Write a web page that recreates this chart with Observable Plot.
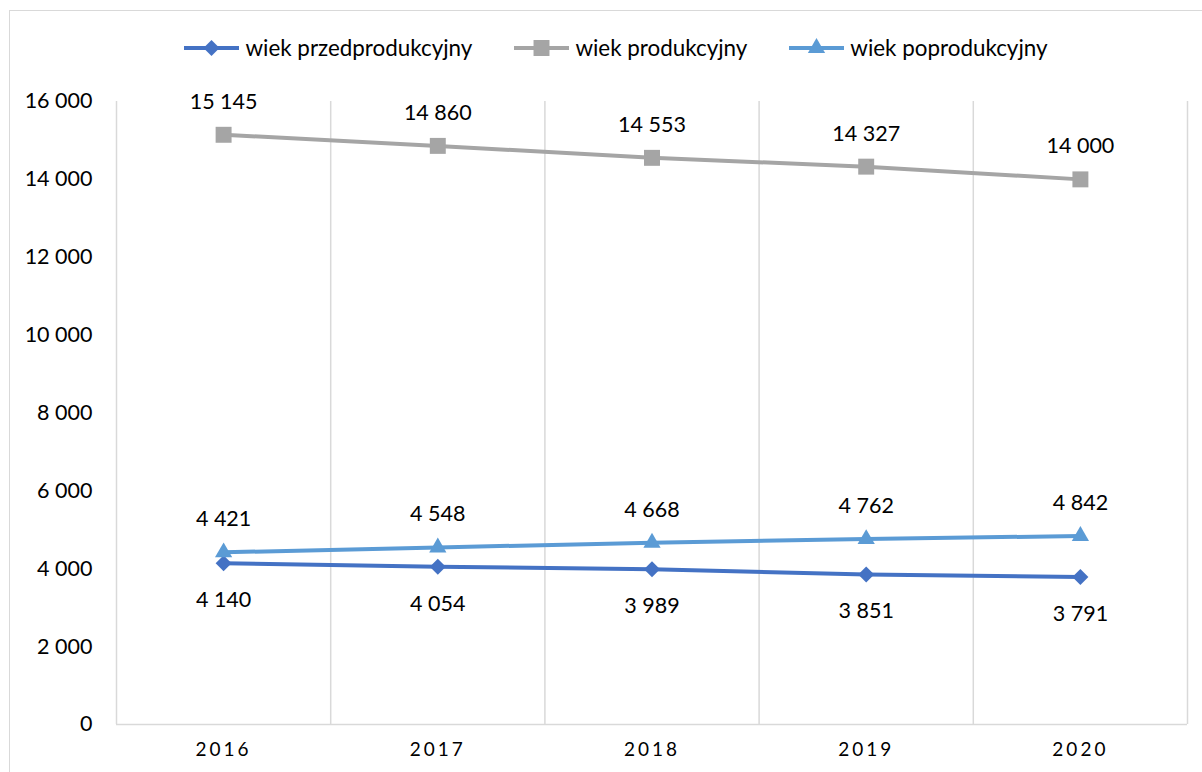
<!DOCTYPE html>
<html><head><meta charset="utf-8">
<script src="https://cdn.jsdelivr.net/npm/d3@7"></script>
<script src="https://cdn.jsdelivr.net/npm/@observablehq/plot@0.6"></script>
<style>
html,body{margin:0;padding:0;background:#fff;overflow:hidden}
#wrap{position:relative;width:1202px;height:772px;font-family:Lato,sans-serif;color:#000}
#frame{position:absolute;left:9px;top:10px;width:1300px;height:900px;border:1.5px solid #d9d9d9;box-sizing:border-box}
#chart{position:absolute;left:0;top:0}
#legend{position:absolute;top:34px;left:0;width:1232px;display:flex;justify-content:center;gap:42px;font-size:22.4px;line-height:28px}
.item{display:flex;align-items:center}
.item svg{margin-right:6px}
g[aria-label="x-axis tick label"] text{letter-spacing:3px}
</style></head>
<body><div id="wrap"><div id="frame"></div><div id="chart"></div><div id="legend"></div></div>
<script>
const years = [2016, 2017, 2018, 2019, 2020];
const seriesNames = ["wiek przedprodukcyjny", "wiek produkcyjny", "wiek poprodukcyjny"];
const przed = [4140, 4054, 3989, 3851, 3791];
const prod = [15145, 14860, 14553, 14327, 14000];
const po = [4421, 4548, 4668, 4762, 4842];
const yTicks = [0, 2000, 4000, 6000, 8000, 10000, 12000, 14000, 16000];

const colors = ["#4472C4", "#A5A5A5", "#5B9BD5"];
const symbols = ["diamond2", "square", "triangle"];
const radii = [7.2, 9, 6.4];
const dys = [37, -33, -33];
const values = [przed, prod, po];

const fmt = d3.formatLocale({decimal: ",", thousands: "\u00a0", grouping: [3], currency: ["", ""]}).format(",d");

const rows = [];
values.forEach((vals, s) => years.forEach((year, i) => rows.push({series: s, year, value: vals[i]})));
const boundaries = [years[0] - 0.5, ...years.map(y => y + 0.5)];

const marks = [
  Plot.ruleX(boundaries, {stroke: "#d9d9d9", strokeWidth: 1.5}),
  Plot.ruleY([0], {stroke: "#d9d9d9", strokeWidth: 1.5}),
  Plot.axisY({ticks: yTicks, tickSize: 0, tickPadding: 24, tickFormat: fmt, fontSize: 21.5, label: null}),
  Plot.axisX({ticks: years, tickSize: 0, tickPadding: 18, tickFormat: d => String(d), fontSize: 19, label: null})
];
values.forEach((vals, s) => {
  const data = rows.filter(r => r.series === s);
  marks.push(Plot.line(data, {x: "year", y: "value", stroke: colors[s], strokeWidth: 4}));
  marks.push(Plot.dot(data, {x: "year", y: "value", symbol: symbols[s], r: radii[s], fill: colors[s], stroke: "none"}));
  marks.push(Plot.text(data, {x: "year", y: "value", text: d => fmt(d.value), dy: dys[s], fontSize: 21.5, fill: "#000"}));
});

const chart = Plot.plot({
  width: 1202, height: 772,
  marginLeft: 116, marginRight: 15, marginTop: 101, marginBottom: 48,
  style: {fontFamily: "Lato, sans-serif", background: "transparent", color: "#000"},
  x: {type: "linear", domain: [boundaries[0], boundaries[boundaries.length - 1]], axis: null},
  y: {type: "linear", domain: [0, yTicks[yTicks.length - 1]], axis: null},
  marks
});
document.getElementById("chart").appendChild(chart);

const legend = document.getElementById("legend");
seriesNames.forEach((name, s) => {
  const item = document.createElement("div");
  item.className = "item";
  const sz = {diamond2: d3.symbolDiamond2, square: d3.symbolSquare, triangle: d3.symbolTriangle}[symbols[s]];
  const path = d3.symbol(sz, Math.PI * radii[s] * radii[s])();
  item.innerHTML = `<svg width="55" height="20"><line x1="0" x2="55" y1="10" y2="10" stroke="${colors[s]}" stroke-width="4"/><path d="${path}" transform="translate(27.5,10)" fill="${colors[s]}"/></svg><span>${name}</span>`;
  legend.appendChild(item);
});
</script></body></html>
